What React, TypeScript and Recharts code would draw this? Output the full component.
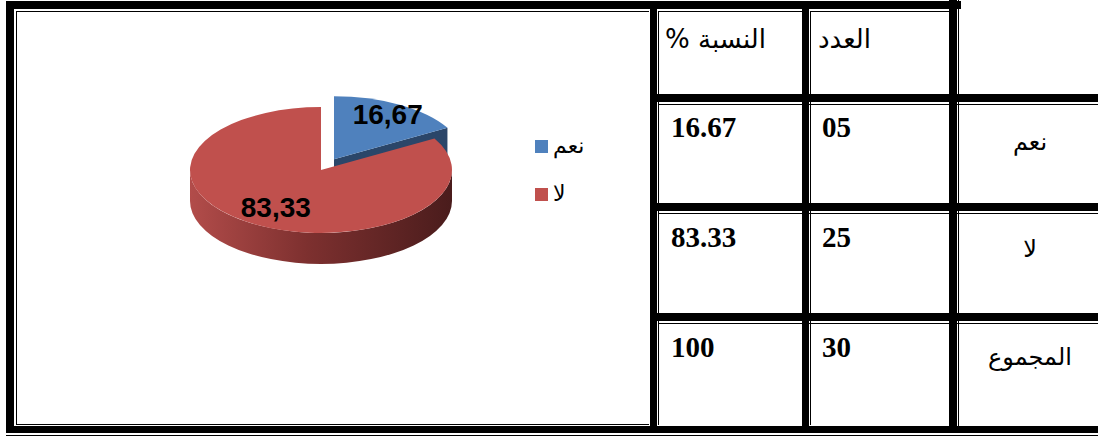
import React from "react";
import { PieChart, Pie, Cell, Legend } from "recharts";

// chart data
const categories = ["نعم", "لا"];
const percentages = [16.67, 83.33];
const sliceLabels = ["16,67", "83,33"];

// table data
const headers = ["النسبة %", "العدد"];
const rowLabels = ["نعم", "لا", "المجموع"];
const percentCells = ["16.67", "83.33", "100"];
const countCells = ["05", "25", "30"];

const TOP_COLORS = ["#4f81bd", "#c0504d"];
const SIDE_COLORS = ["#2b4669", "url(#redSide)"];
const EXPLODE = [26, 0];
const LABEL_RADIUS = [0.82, 0.69];
const TILT = 0.48;
const DEPTH = 31;
const RAD = Math.PI / 180;

const pieData = categories.map((name, i) => ({ name, value: percentages[i] }));

// draws a tilted 3D slice from the angles recharts computed for the sector
const render3DSlice = (props: any) => {
  const { cx, cy, outerRadius, startAngle, endAngle, index } = props;
  const hi = Math.max(startAngle, endAngle);
  const lo = Math.min(startAngle, endAngle);
  const mid = (hi + lo) / 2;
  const e = EXPLODE[index] || 0;
  const rx = outerRadius;
  const ry = outerRadius * TILT;
  const ox = cx + e * Math.cos(mid * RAD);
  const oy = cy - e * TILT * Math.sin(mid * RAD);
  const P = (a: number, d = 0) =>
    `${ox + rx * Math.cos(a * RAD)} ${oy - ry * Math.sin(a * RAD) + d}`;

  const parts: React.ReactNode[] = [];

  // radial cut faces that face the viewer
  if (Math.cos(lo * RAD) > 0.01) {
    parts.push(
      <path key="rl" d={`M ${ox} ${oy} L ${P(lo)} L ${P(lo, DEPTH)} L ${ox} ${oy + DEPTH} Z`} fill={index === 0 ? "#2b4669" : "#6b2826"} />
    );
  }
  if (Math.cos(hi * RAD) < -0.01) {
    parts.push(
      <path key="rh" d={`M ${ox} ${oy} L ${P(hi)} L ${P(hi, DEPTH)} L ${ox} ${oy + DEPTH} Z`} fill={index === 0 ? "#2b4669" : "#6b2826"} />
    );
  }

  // outer wall, only the front half is visible
  for (let k = -1; k <= 1; k++) {
    const s = Math.max(lo, -180 + 360 * k);
    const t = Math.min(hi, 360 * k);
    if (t - s > 0.01) {
      parts.push(
        <path
          key={`w${k}`}
          d={`M ${P(t)} A ${rx} ${ry} 0 0 1 ${P(s)} L ${P(s, DEPTH)} A ${rx} ${ry} 0 0 0 ${P(t, DEPTH)} Z`}
          fill={SIDE_COLORS[index]}
        />
      );
    }
  }

  const large = hi - lo > 180 ? 1 : 0;
  parts.push(
    <path
      key="top"
      d={`M ${ox} ${oy} L ${P(hi)} A ${rx} ${ry} 0 ${large} 1 ${P(lo)} Z`}
      fill={TOP_COLORS[index]}
    />
  );

  const lr = LABEL_RADIUS[index];
  parts.push(
    <text
      key="lbl"
      x={ox + rx * lr * Math.cos(mid * RAD)}
      y={oy - ry * lr * Math.sin(mid * RAD)}
      textAnchor="middle"
      dominantBaseline="central"
      fontFamily="'Liberation Sans', Arial, sans-serif"
      fontWeight="bold"
      fontSize={28}
      fill="#000"
    >
      {sliceLabels[index]}
    </text>
  );

  return <g key={`slice-${index}`}>{parts}</g>;
};

const renderLegend = (props: any) => {
  const items = [...(props.payload || [])].sort(
    (a: any, b: any) => categories.indexOf(a.value) - categories.indexOf(b.value)
  );
  return (
    <div style={{ fontFamily: "'DejaVu Sans', sans-serif", fontSize: 22 }}>
      {items.map((entry: any) => (
        <div key={entry.value} style={{ display: "flex", alignItems: "center", height: 48 }}>
          <span
            style={{
              width: 13,
              height: 13,
              background: TOP_COLORS[categories.indexOf(entry.value)],
              display: "inline-block",
              marginRight: 5,
            }}
          />
          <span style={{ color: "#000", lineHeight: 1 }}>{entry.value}</span>
        </div>
      ))}
    </div>
  );
};

// table frame: thick and thin rules
const thickRules = [
  [6, 1, 955, 8],
  [6, 1, 8, 432],
  [650, 1, 7, 432],
  [802, 1, 7, 432],
  [949, 0, 8, 433],
  [650, 94, 448, 8],
  [650, 203, 448, 8],
  [650, 313, 448, 8],
  [6, 426, 1092, 7],
];
const thinRules = [
  [16, 11, 1, 414],
  [16, 11, 633, 1],
  [16, 424, 633, 1],
  [658, 11, 1, 414],
  [810, 11, 1, 414],
  [958, 0, 1, 426],
  [658, 11, 144, 1],
  [810, 11, 139, 1],
  [658, 104, 440, 1],
  [658, 213, 440, 1],
  [658, 323, 440, 1],
  [6, 435, 1092, 1],
];
const rowBaselines = [137, 247, 357];
const labelBaselines = [150, 257, 365];

export default function App() {
  return (
    <div style={{ position: "fixed", left: 0, top: 0, width: 1098, height: 437, background: "#fff", overflow: "hidden" }}>
      <svg width={1098} height={437} style={{ position: "absolute", left: 0, top: 0 }}>
        {thinRules.map((r, i) => (
          <rect key={`t${i}`} x={r[0]} y={r[1]} width={r[2]} height={r[3]} fill="#000" />
        ))}
        {thickRules.map((r, i) => (
          <rect key={`k${i}`} x={r[0]} y={r[1]} width={r[2]} height={r[3]} fill="#000" />
        ))}
        <text x={665} y={48} direction="rtl" textAnchor="end" fontFamily="'DejaVu Sans', sans-serif" fontSize={26} fill="#000">
          {headers[0]}
        </text>
        <text x={818} y={48} direction="rtl" textAnchor="end" fontFamily="'DejaVu Sans', sans-serif" fontSize={26} fill="#000">
          {headers[1]}
        </text>
        {rowBaselines.map((y, i) => (
          <g key={`row${i}`}>
            <text x={671} y={y} fontFamily="'Liberation Serif', 'Times New Roman', serif" fontWeight="bold" fontSize={29} fill="#000">
              {percentCells[i]}
            </text>
            <text x={822} y={y} fontFamily="'Liberation Serif', 'Times New Roman', serif" fontWeight="bold" fontSize={29} fill="#000">
              {countCells[i]}
            </text>
            <text x={1030} y={labelBaselines[i]} direction="rtl" textAnchor="middle" fontFamily="'DejaVu Sans', sans-serif" fontSize={24} fill="#000">
              {rowLabels[i]}
            </text>
          </g>
        ))}
      </svg>
      <div style={{ position: "absolute", left: 18, top: 13 }}>
        <PieChart width={630} height={410}>
          <defs>
            <linearGradient id="redSide" x1="0" y1="0" x2="1" y2="0">
              <stop offset="0%" stopColor="#b24c4a" />
              <stop offset="45%" stopColor="#7d302f" />
              <stop offset="100%" stopColor="#4a1c1c" />
            </linearGradient>
          </defs>
          <Pie
            data={pieData}
            dataKey="value"
            nameKey="name"
            cx={298}
            cy={152}
            outerRadius={131}
            startAngle={90}
            endAngle={-270}
            fillOpacity={0}
            stroke="none"
            label={render3DSlice}
            labelLine={false}
            isAnimationActive={false}
          >
            {pieData.map((d, i) => (
              <Cell key={d.name} fill={TOP_COLORS[i]} />
            ))}
          </Pie>
          <Legend
            layout="vertical"
            content={renderLegend}
            wrapperStyle={{ position: "absolute", left: 517, top: 109, width: 90 }}
          />
        </PieChart>
      </div>
    </div>
  );
}
